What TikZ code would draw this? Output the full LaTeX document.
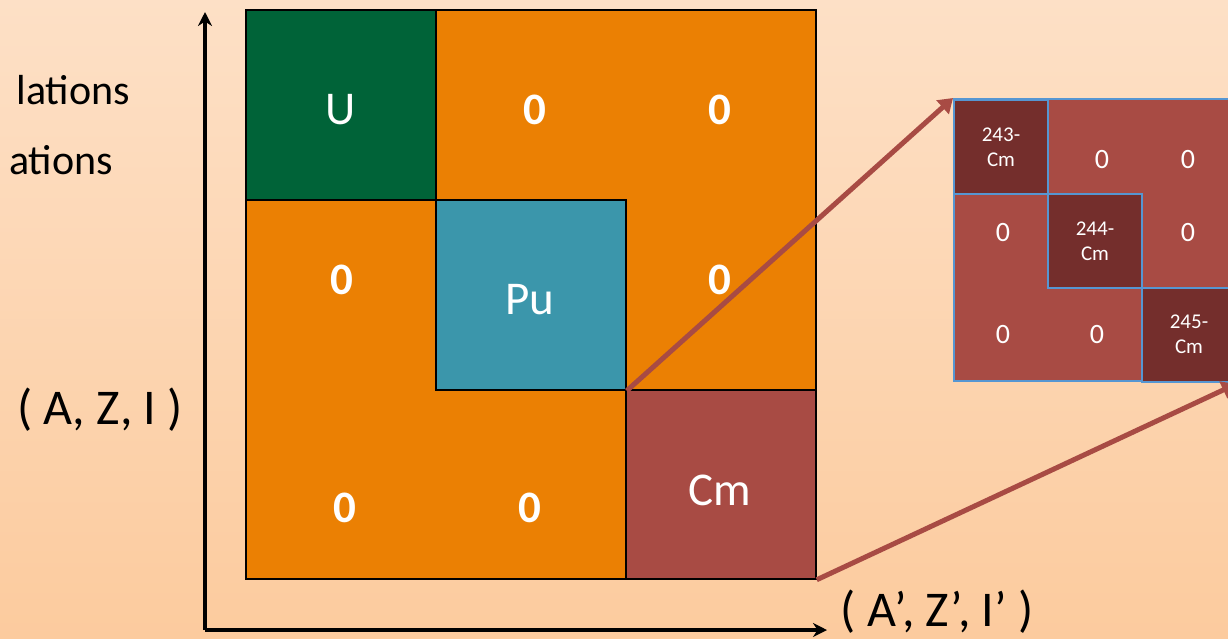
\documentclass[tikz,border=0pt]{standalone}
\usepackage{fontspec}
\setmainfont{Carlito}
\usetikzlibrary{arrows.meta}
\definecolor{bgtop}{RGB}{253,224,198}
\definecolor{bgbot}{RGB}{252,203,158}
\definecolor{orng}{RGB}{235,128,3}
\definecolor{grn}{RGB}{0,99,56}
\definecolor{teal}{RGB}{59,150,171}
\definecolor{brwn}{RGB}{168,75,68}
\definecolor{dbrwn}{RGB}{116,46,44}
\definecolor{lblue}{RGB}{86,150,210}
\tikzset{
  cell/.style={draw=black, line width=1.5pt, inner sep=0pt, minimum width=190pt, minimum height=190pt},
  celltxt/.style={text=white, font=\fontsize{47}{50}\selectfont, inner sep=0pt},
  zero/.style={text=white, font=\fontsize{45}{48}\selectfont\bfseries},
  scell/.style={draw=lblue, line width=2pt, fill=dbrwn, inner sep=0pt, minimum width=94pt, minimum height=94pt, text=white, align=center, font=\fontsize{21}{25}\selectfont},
  szero/.style={text=white, font=\fontsize{28}{30}\selectfont},
  axis/.style={line width=4pt, -{Stealth[length=14pt,width=14pt]}},
  link/.style={draw=brwn, line width=5pt, -{Triangle[length=14pt,width=18pt]}},
  lbl/.style={font=\fontsize{42}{46}\selectfont, inner sep=0pt},
  axlbl/.style={font=\fontsize{50}{54}\selectfont, inner sep=0pt}
}
\begin{document}
\begin{tikzpicture}[x=1pt,y=-1pt]
\shade[top color=bgtop, bottom color=bgbot] (0,0) rectangle (1228,638);
\useasboundingbox (0,0) rectangle (1228,638);

% partial text
\node[lbl, anchor=east] (t1) at (130,90) {lations};
\node[lbl, anchor=east] (t2) at (113,160) {ations};

% big matrix
\node[cell, fill=orng, minimum width=570pt, minimum height=569pt] (big) at (531,294.5) {};
\node[cell, fill=grn] (U) at (341,105) {};
\node[cell, fill=teal] (Pu) at (531,295) {};
\node[cell, fill=brwn, minimum height=189pt] (Cm) at (721,484.5) {};
\node[celltxt] (Ut) at (341,110) {U};
\node[celltxt] (Put) at (530,300) {Pu};
\node[celltxt] (Cmt) at (720,490) {Cm};
\node[zero] (z1) at (535,110) {0};
\node[zero] (z2) at (720,110) {0};
\node[zero] (z3) at (342,280) {0};
\node[zero] (z4) at (720,280) {0};
\node[zero] (z5) at (345,508) {0};
\node[zero] (z6) at (530,508) {0};

% axes
\coordinate (O) at (205,630);
\coordinate (ytip) at (205,12);
\coordinate (xtip) at (827,630);
\draw[axis] (O) -- (ytip);
\draw[axis] (O) -- (xtip);
\node[axlbl] (yl) at (100,410) {( A, Z, I )};
\node[axlbl] (xl) at (937,612) {( A’, Z’, I’ )};

% small matrix
\node[draw=lblue, line width=2pt, fill=brwn, inner sep=0pt, minimum width=282pt, minimum height=282pt] (sm) at (1095,240) {};
\node[scell] (c1) at (1001,147) {243-\\Cm};
\node[scell] (c2) at (1095,241) {244-\\Cm};
\node[scell] (c3) at (1189,334.5) {245-\\Cm};
\node[szero] (s1) at (1102,160) {0};
\node[szero] (s2) at (1188,160) {0};
\node[szero] (s3) at (1003,233) {0};
\node[szero] (s4) at (1188,233) {0};
\node[szero] (s5) at (1003,335) {0};
\node[szero] (s6) at (1097,335) {0};

% links
\coordinate (e2) at (1236,384);
\draw[link] (Pu.south east) -- (sm.north west);
\draw[link] (Cm.south east) -- (e2);
\end{tikzpicture}
\end{document}
